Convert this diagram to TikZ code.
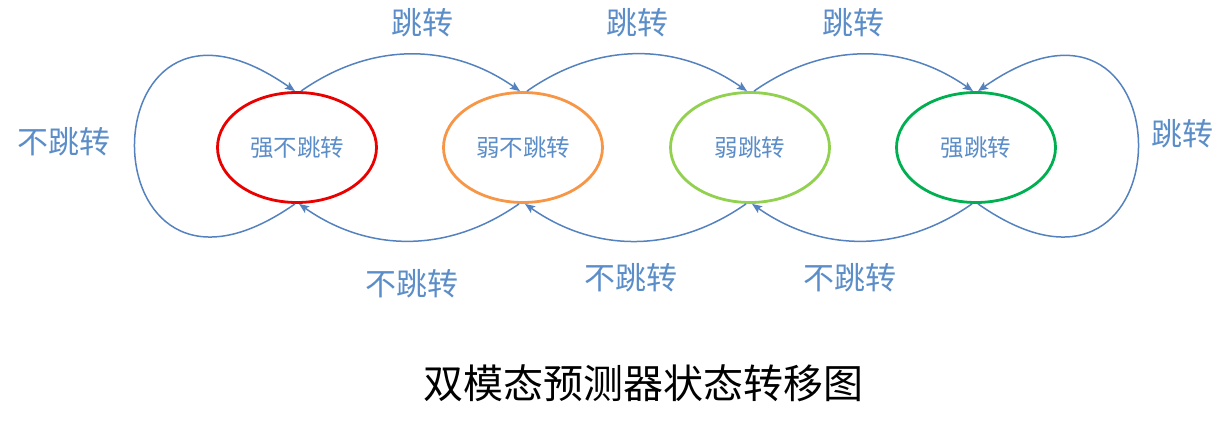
\documentclass[tikz,border=0pt]{standalone}
\usepackage{fontspec}
\setmainfont{Noto Sans CJK SC}
\usetikzlibrary{shapes.geometric,arrows.meta}
\definecolor{lineblue}{RGB}{84,130,190}
\definecolor{textblue}{RGB}{91,141,200}
\definecolor{sred}{RGB}{235,0,0}
\definecolor{sorange}{RGB}{247,150,70}
\definecolor{slgreen}{RGB}{146,208,80}
\definecolor{sgreen}{RGB}{0,176,80}
\begin{document}
\begin{tikzpicture}[x=1pt,y=1pt,
  state/.style={ellipse,draw,line width=2.8pt,minimum width=159pt,minimum height=110pt,inner sep=0pt,text=textblue,font=\fontsize{23.5}{28}\selectfont},
  trans/.style={draw=lineblue,line width=1.5pt,-{Stealth[length=10pt,width=8pt,inset=2pt]}},
  lbl/.style={text=textblue,font=\fontsize{31}{36}\selectfont,inner sep=0pt},
  ttl/.style={text=black,font=\fontsize{40}{46}\selectfont,inner sep=0pt}]
\useasboundingbox (0,0) rectangle (1231,423);
\node[state,draw=sred] (s0) at (297,275.5) {强不跳转};
\node[state,draw=sorange] (s1) at (523,275.5) {弱不跳转};
\node[state,draw=slgreen] (s2) at (750,275.5) {弱跳转};
\node[state,draw=sgreen] (s3) at (976,275.5) {强跳转};
% taken transitions (top)
\draw[trans] ([xshift=4pt]s0.north) to[out=35,in=145] ([xshift=-3pt]s1.north);
\draw[trans] ([xshift=4pt]s1.north) to[out=35,in=145] ([xshift=-3pt]s2.north);
\draw[trans] ([xshift=4pt]s2.north) to[out=35,in=145] ([xshift=-3pt]s3.north);
% not-taken transitions (bottom)
\draw[trans] ([xshift=-4pt]s1.south) to[out=215,in=325] ([xshift=2pt]s0.south);
\draw[trans] ([xshift=-4pt]s2.south) to[out=215,in=325] ([xshift=2pt]s1.south);
\draw[trans] ([xshift=-4pt]s3.south) to[out=215,in=325] ([xshift=2pt]s2.south);
% self loops
\draw[trans] ([xshift=-2pt]s0.south) .. controls +(215:260) and +(145:260) .. ([xshift=-2pt]s0.north);
\draw[trans] ([xshift=2pt]s3.south) .. controls +(-35:260) and +(35:260) .. ([xshift=2pt]s3.north);
% labels
\node[lbl] (t01) at (422,400) {跳转};
\node[lbl] (t12) at (637,400) {跳转};
\node[lbl] (t23) at (853,400) {跳转};
\node[lbl] (t33) at (1182,289) {跳转};
\node[lbl] (n00) at (64,281.5) {不跳转};
\node[lbl] (n10) at (412,139) {不跳转};
\node[lbl] (n21) at (631,145.5) {不跳转};
\node[lbl] (n32) at (850,145.5) {不跳转};
\node[ttl] (title) at (643,40) {双模态预测器状态转移图};
\end{tikzpicture}
\end{document}
